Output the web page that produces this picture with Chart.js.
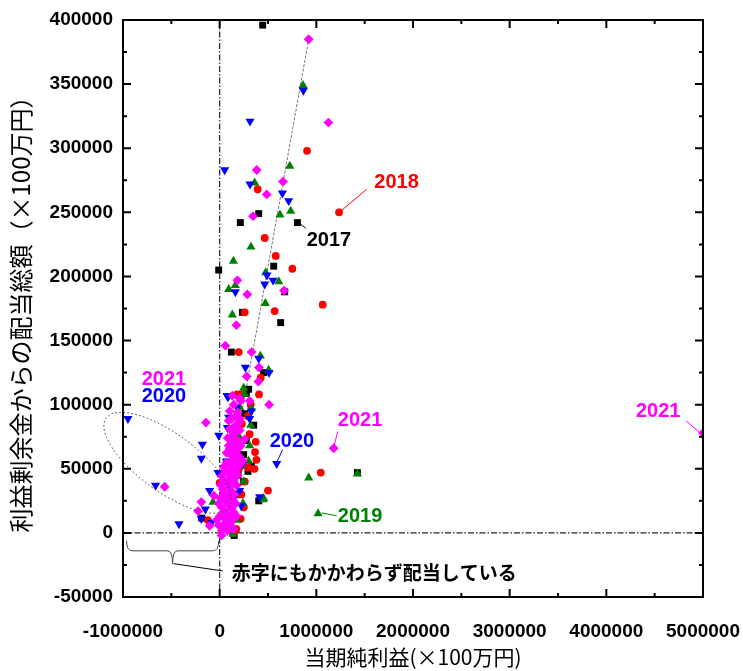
<!DOCTYPE html>
<html lang="ja">
<head>
<meta charset="UTF-8">
<title>当期純利益と利益剰余金からの配当総額</title>
<script src="https://cdn.jsdelivr.net/npm/chart.js"></script>
<style>
  html, body { margin: 0; padding: 0; background: #fff; }
  #chart { display: block; }
</style>
</head>
<body>
<canvas id="chart" width="743" height="671"></canvas>
<script>
// [当期純利益, 配当総額] (×100万円)
const s2017 = [[445000,396000],[-10000,205000],[404000,249000],[214000,242000],[804000,242000],[559000,208000],[631000,164000],[235000,172000],[121000,141000],[673000,188000],[455000,125000],[300000,112000],[352000,84000],[293000,48000],[248000,40000],[404000,25000],[1425000,47000],[-186000,11500],[276000,109000],[276000,72000],[328000,52000],[259000,93000],[150000,-2000],[200000,60000],[180000,30000],[160000,80000],[100000,10000],[190000,45000],[248000,61000]];
const s2018 = [[1235000,250000],[904000,298000],[393000,268000],[466000,230000],[580000,216000],[752000,206000],[1066000,178000],[569000,173000],[259000,172000],[197000,141000],[424000,121000],[407000,108000],[224000,108000],[179000,108000],[321000,100000],[293000,91000],[310000,77000],[373000,71000],[366000,63000],[380000,57000],[360000,50000],[500000,33000],[1046000,47000],[217000,11000],[0,39000],[293000,51000],[224000,30000],[173000,3000],[-121000,10000],[138000,0],[155000,3000],[250000,20000],[200000,50000],[260000,40000],[190000,70000],[230000,85000]];
const s2019 = [[862000,349000],[725000,286000],[362000,273000],[735000,251000],[624000,248000],[324000,223000],[142000,212000],[93000,190000],[162000,193000],[476000,203000],[611000,196000],[473000,179000],[131000,170000],[421000,138000],[507000,127000],[921000,43000],[1425000,46000],[1018000,15000],[455000,27000],[259000,108000],[321000,84000],[310000,68000],[300000,56000],[207000,98000],[248000,113000],[328000,97000],[-69000,24000],[241000,23000],[448000,26000],[138000,-1000],[224000,52000],[200000,75000],[250000,40000],[180000,10000]];
const s2020 = [[866000,345000],[314000,321000],[52000,283000],[314000,272000],[649000,265000],[714000,259000],[490000,201000],[552000,197000],[162000,188000],[466000,194000],[404000,136000],[511000,125000],[266000,129000],[76000,107000],[-10000,76000],[93000,90000],[179000,98000],[590000,54000],[414000,28000],[-949000,89000],[-179000,69000],[-190000,58000],[-663000,37000],[-421000,7000],[-17000,47000],[-104000,33000],[-148000,18500],[-190000,11000],[80000,82000],[121000,82000],[328000,95000],[310000,89000],[69000,56000],[104000,64000],[207000,33000],[224000,21000],[-86000,8000],[241000,54000],[86000,106000]];
const s2021 = [[921000,385000],[1125000,320000],[383000,283000],[655000,274000],[487000,264000],[345000,247000],[183000,197000],[286000,186000],[666000,189000],[173000,162000],[59000,146000],[330000,141000],[407000,129000],[280000,122000],[400000,118000],[511000,100000],[-142000,86000],[1180000,66000],[-569000,36000],[-190000,24000],[-224000,17000],[-59000,29000],[-104000,5500],[5000000,78000],[217000,103000],[131000,107000],[310000,103000],[200000,86000],[259000,73000],[207000,67000],[241000,56000],
  [21000,1600],[83000,1600],[145000,3000],[-10000,6000],[62000,8000],[124000,9000],[0,13000],[72000,15000],[145000,16000],[21000,20000],[93000,22000],[166000,23000],[10000,27000],[83000,29000],[155000,30000],[31000,34000],[104000,36000],[176000,37000],[41000,41000],[114000,43000],[186000,45000],[62000,48000],[135000,50000],[197000,52000],[72000,55000],[145000,57000],[207000,59000],[104000,62000],[176000,64000],[124000,70000],[186000,72000],[145000,77000],[207000,80000],[166000,84000],[124000,89000],[186000,94000],[145000,100000],[207000,105000],[20000,-2000],
  [52000,4000],[114000,5500],[-31000,10000],[41000,12000],[104000,12500],[176000,13000],[52000,17000],[124000,19000],[-10000,23000],[62000,25000],[135000,26500],[41000,31000],[114000,33000],[10000,37500],[72000,39000],[145000,40600],[21000,44500],[93000,46000],[166000,47700],[41000,51500],[104000,53000],[176000,55000],[72000,62500],[135000,60000],[93000,68000],[155000,66000],[217000,68000],[83000,74000],[155000,74000],[104000,81000],[176000,82000],[93000,87500],[166000,91000],[104000,95000],[207000,89000]];
// 近似線
const trend = [[0,-3000],[921000,385000]];

const xTitle = '当期純利益(×100万円)';
const yTitle = '利益剰余金からの配当総額（×100万円）';

// 注記 (データ座標)
const notes = [
  { text: '2018', x: 1600000, y: 273000, color: '#ff0000' },
  { text: '2017', x: 900000, y: 228000, color: '#000000' },
  { text: '2021', x: -807000, y: 120000, color: '#ff00ff' },
  { text: '2020', x: -807000, y: 106000, color: '#0000ff' },
  { text: '2020', x: 518000, y: 71000, color: '#0000ff' },
  { text: '2021', x: 1222000, y: 87500, color: '#ff00ff' },
  { text: '2019', x: 1222000, y: 12500, color: '#008000' },
  { text: '2021', x: 4306000, y: 95000, color: '#ff00ff' }
];
const leaders = [
  { from: [1263000, 251600], to: [1522000, 268000], color: '#ff0000' },
  { from: [818000, 242000], to: [890000, 237500], color: '#000000' },
  { from: [652000, 65000], to: [590000, 55000], color: '#0000ff' },
  { from: [1222000, 79000], to: [1180000, 67000], color: '#ff00ff' },
  { from: [1056000, 15600], to: [1211000, 13300], color: '#008000' },
  { from: [4824000, 87500], to: [4969000, 78000], color: '#ff00ff' }
];

const toPts = s => s.map(p => ({ x: p[0], y: p[1] }));

const decorations = {
  id: 'decorations',
  beforeDatasetsDraw(chart) {
    const { ctx, chartArea: a, scales: { x, y } } = chart;
    const x0 = x.getPixelForValue(0), y0 = y.getPixelForValue(0);
    ctx.save();
    ctx.strokeStyle = '#222';
    ctx.lineWidth = 1.2;
    ctx.setLineDash([6, 2, 1.5, 2]);
    ctx.beginPath();
    ctx.moveTo(x0, a.top); ctx.lineTo(x0, a.bottom);
    ctx.moveTo(a.left, y0); ctx.lineTo(a.right, y0);
    ctx.stroke();
    ctx.restore();
  },
  afterDatasetsDraw(chart) {
    const { ctx, chartArea: a, scales: { x, y } } = chart;
    const P = (vx, vy) => [x.getPixelForValue(vx), y.getPixelForValue(vy)];
    ctx.save();

    // frame
    ctx.strokeStyle = '#000';
    ctx.lineWidth = 2;
    ctx.strokeRect(a.left, a.top, a.right - a.left, a.bottom - a.top);

    // ticks (inward, all sides)
    const tickLines = (scale, horiz) => {
      const vals = scale.ticks.map(t => t.value);
      const draw = (v, len) => {
        const p = scale.getPixelForValue(v);
        if (horiz) {
          ctx.moveTo(p, a.bottom); ctx.lineTo(p, a.bottom - len);
          ctx.moveTo(p, a.top); ctx.lineTo(p, a.top + len);
        } else {
          ctx.moveTo(a.left, p); ctx.lineTo(a.left + len, p);
          ctx.moveTo(a.right, p); ctx.lineTo(a.right - len, p);
        }
      };
      ctx.beginPath();
      vals.forEach(v => draw(v, 8));
      for (let i = 0; i < vals.length - 1; i++) draw((vals[i] + vals[i + 1]) / 2, 4);
      ctx.stroke();
    };
    tickLines(x, true);
    tickLines(y, false);

    // ellipse round the loss-making payers
    const [ex, ey] = P(-538000, 54700);
    ctx.strokeStyle = '#333';
    ctx.lineWidth = 1;
    ctx.setLineDash([1.5, 2.5]);
    ctx.beginPath();
    ctx.ellipse(ex, ey, 76, 29, 36 * Math.PI / 180, 0, 2 * Math.PI);
    ctx.stroke();
    ctx.setLineDash([]);

    // brace under the negative side
    const [bl, bt] = P(-963000, -6250);
    const [br] = P(-10000, 0);
    const [bm, bb] = P(-487000, -14000);
    const [, bc] = P(0, -24000);
    ctx.strokeStyle = '#444';
    ctx.lineWidth = 1;
    ctx.beginPath();
    ctx.moveTo(bl, bt);
    ctx.quadraticCurveTo(bl, bb, bl + 6, bb);
    ctx.lineTo(bm - 5, bb);
    ctx.quadraticCurveTo(bm, bb, bm, bc);
    ctx.quadraticCurveTo(bm, bb, bm + 5, bb);
    ctx.lineTo(br - 6, bb);
    ctx.quadraticCurveTo(br, bb, br, bt);
    ctx.stroke();
    const [lx, ly] = P(31000, -29700);
    ctx.strokeStyle = '#000';
    ctx.beginPath();
    ctx.moveTo(bm + 1, bc);
    ctx.lineTo(lx, ly);
    ctx.stroke();

    // leader lines
    ctx.lineWidth = 1;
    leaders.forEach(l => {
      const [x1, y1] = P(l.from[0], l.from[1]);
      const [x2, y2] = P(l.to[0], l.to[1]);
      ctx.strokeStyle = l.color;
      ctx.beginPath(); ctx.moveTo(x1, y1); ctx.lineTo(x2, y2); ctx.stroke();
    });

    // labels
    ctx.textAlign = 'left';
    ctx.textBaseline = 'middle';
    ctx.font = 'bold 20px "Liberation Sans", Arial, sans-serif';
    notes.forEach(n => {
      const [tx, ty] = P(n.x, n.y);
      ctx.fillStyle = n.color;
      ctx.fillText(n.text, tx, ty);
    });
    const [jx, jy] = P(124000, -31000);
    ctx.font = 'bold 19px "Noto Sans CJK JP", sans-serif';
    ctx.fillStyle = '#000';
    ctx.fillText('赤字にもかかわらず配当している', jx, jy);

    ctx.restore();
  }
};

const tickFont = { family: '"Liberation Sans", Arial, sans-serif', weight: 'bold', size: 19 };
const marker = (label, data, color, style, radius, order, rotation) => ({
  label, data: toPts(data), backgroundColor: color, borderColor: color,
  pointStyle: style, pointRadius: radius, pointBorderWidth: 0,
  pointRotation: rotation || 0, order, clip: 0
});

new Chart(document.getElementById('chart'), {
  type: 'scatter',
  data: {
    datasets: [
      { type: 'line', label: 'trend', data: toPts(trend), borderColor: '#777', borderWidth: 1,
        borderDash: [3, 1.5], pointRadius: 0, fill: false, order: 6 },
      marker('2017', s2017, '#000000', 'rect', 4.9, 5),
      marker('2018', s2018, '#ff0000', 'circle', 3.9, 4),
      marker('2019', s2019, '#008000', 'triangle', 5.3, 3),
      marker('2020', s2020, '#0000ff', 'triangle', 5.3, 2, 180),
      marker('2021', s2021, '#ff00ff', 'rectRot', 4.9, 1)
    ]
  },
  options: {
    responsive: false,
    animation: false,
    layout: { padding: { top: 20, right: 40, left: 0, bottom: 0 } },
    plugins: { legend: { display: false }, tooltip: { enabled: false } },
    scales: {
      x: {
        type: 'linear', min: -1000000, max: 5000000,
        grid: { display: false, drawTicks: false },
        border: { display: false },
        ticks: { stepSize: 1000000, font: tickFont, color: '#000', padding: 23,
                 maxRotation: 0, autoSkip: false, callback: v => String(v) },
        title: { display: true, text: xTitle, font: { family: '"Noto Sans CJK JP", sans-serif', size: 21 },
                 color: '#000', padding: { top: 0, bottom: 1 } },
        afterFit: s => { s.height = 74; s.paddingLeft = 0; s.paddingRight = 40; }
      },
      y: {
        type: 'linear', min: -50000, max: 400000,
        grid: { display: false, drawTicks: false },
        border: { display: false },
        ticks: { stepSize: 50000, font: tickFont, color: '#000', padding: 10,
                 autoSkip: false, callback: v => String(v) },
        title: { display: true, text: yTitle, font: { family: '"Noto Sans CJK JP", sans-serif', size: 24 },
                 color: '#000', padding: { top: 6, bottom: 0 } },
        afterFit: s => { s.width = 123; s.paddingTop = 0; s.paddingBottom = 0; }
      }
    }
  },
  plugins: [decorations]
});
</script>
</body>
</html>
